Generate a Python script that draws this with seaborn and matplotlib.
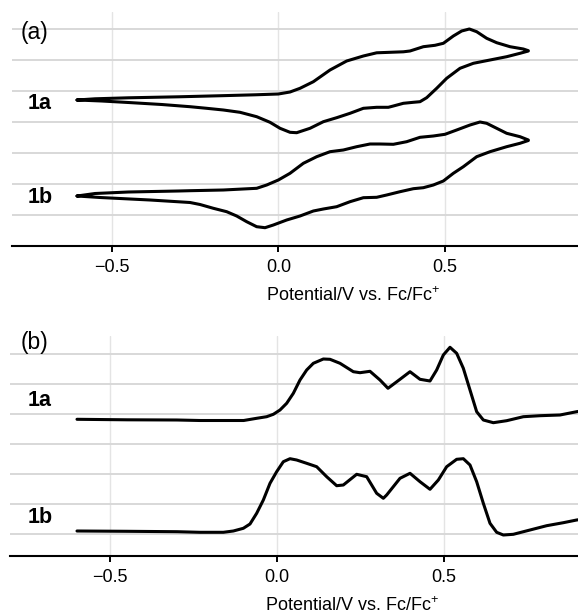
import numpy as np
import pandas as pd
import matplotlib
matplotlib.use("Agg")
import matplotlib.pyplot as plt
import seaborn as sns

# ---------------- data (current in arbitrary units, offset per compound) ----------------
# (a) cyclic voltammograms, forward (oxidative) branch
cv1a_fwd_E = [-0.604, -0.55, -0.45, -0.30, -0.17, -0.07, 0.00, 0.035, 0.065, 0.105, 0.155, 0.205,
              0.255, 0.295, 0.335, 0.375, 0.395, 0.435, 0.47, 0.495, 0.525, 0.55, 0.573, 0.595,
              0.625, 0.655, 0.695, 0.735, 0.75]
cv1a_fwd_i = [146, 147.2, 148.2, 149.2, 150.3, 151.2, 152, 154, 157.7, 164.3, 176, 185,
              190, 193.2, 193.7, 194.2, 195, 199.3, 200.7, 202.7, 210, 215, 217, 214.3,
              207.7, 203.3, 199.3, 197, 195.3]
# reverse branch
cv1a_rev_E = [0.75, 0.725, 0.685, 0.635, 0.585, 0.545, 0.505, 0.475, 0.445, 0.425, 0.405, 0.375,
              0.345, 0.33, 0.295, 0.255, 0.215, 0.175, 0.135, 0.095, 0.055, 0.035, 0.005, -0.025,
              -0.065, -0.115, -0.165, -0.215, -0.265, -0.35, -0.45, -0.53, -0.604]
cv1a_rev_i = [195, 192.7, 189.3, 186, 182.7, 177.7, 167.7, 157.7, 148.3, 144.3, 143.7, 142.7,
              140, 138.7, 138.7, 137.7, 132.7, 128.3, 124.3, 117.7, 113.3, 113.7, 117.7, 123.7,
              129.3, 133.7, 136, 137.7, 139.3, 141.5, 143.5, 145, 146]

cv1b_fwd_E = [-0.604, -0.55, -0.45, -0.30, -0.265, -0.165, -0.065, -0.035, 0.0, 0.035, 0.075,
              0.115, 0.155, 0.195, 0.235, 0.275, 0.305, 0.345, 0.385, 0.425, 0.465, 0.50, 0.535,
              0.575, 0.605, 0.625, 0.655, 0.685, 0.725, 0.75]
cv1b_fwd_i = [50, 52.5, 54, 55, 55.3, 56, 57.7, 61, 66, 72.7, 82.7,
              89.3, 94.3, 96, 99.3, 102, 102, 101.7, 104.3, 108.7, 110, 111.7, 116,
              121, 124, 122.7, 117.7, 112.7, 109.3, 106]
cv1b_rev_E = [0.75, 0.725, 0.685, 0.635, 0.595, 0.555, 0.525, 0.495, 0.465, 0.435, 0.405, 0.365,
              0.325, 0.295, 0.255, 0.215, 0.175, 0.135, 0.105, 0.065, 0.025, -0.015, -0.04,
              -0.065, -0.095, -0.125, -0.155, -0.195, -0.235, -0.265, -0.385, -0.535, -0.604]
cv1b_rev_i = [105.5, 102.7, 99.3, 94.3, 89.3, 79.3, 72.7, 65, 61, 58.3, 57.3, 54.3,
              51, 48.7, 48.3, 44.3, 39.3, 37, 35, 30, 26, 21, 18.3,
              19.3, 24.3, 30, 34.3, 37.7, 41.5, 43.5, 46, 48.5, 50]

# (b) differential pulse voltammograms
dpv1a_E = [-0.60, -0.45, -0.30, -0.231, -0.10, -0.061, -0.031, -0.011, 0.009, 0.029, 0.049, 0.069,
           0.089, 0.109, 0.139, 0.159, 0.189, 0.229, 0.249, 0.279, 0.309, 0.333, 0.369, 0.399,
           0.429, 0.459, 0.479, 0.499, 0.519, 0.539, 0.559, 0.579, 0.599, 0.619, 0.649, 0.689,
           0.739, 0.789, 0.849, 0.899, 0.93]
dpv1a_i = [136.7, 136.2, 136, 135.5, 135.5, 137.7, 139.3, 141.7, 146, 152.7, 162.7, 176,
           186, 192.7, 197, 196.7, 192.7, 184.3, 183.3, 184.7, 176, 167.7, 176.7, 184.3,
           176.7, 175, 186, 201, 208.7, 202.7, 187.7, 166, 144.3, 136, 133.3, 135.3,
           139.3, 140.3, 141, 144.3, 146]
dpv1b_E = [-0.60, -0.45, -0.30, -0.231, -0.161, -0.131, -0.101, -0.081, -0.061, -0.041, -0.021,
           -0.001, 0.019, 0.039, 0.059, 0.089, 0.119, 0.149, 0.179, 0.199, 0.239, 0.269, 0.299,
           0.319, 0.329, 0.369, 0.399, 0.429, 0.459, 0.484, 0.509, 0.539, 0.559, 0.579, 0.599,
           0.619, 0.639, 0.659, 0.679, 0.709, 0.759, 0.809, 0.859, 0.899, 0.93]
dpv1b_i = [25, 24.7, 24.3, 23.7, 23.7, 25, 27.7, 32, 42.7, 56, 72.7,
           84.3, 94.3, 97.3, 96, 92.7, 89.3, 79.3, 70.3, 71, 81.7, 79.3, 62.7,
           57.7, 61, 77.7, 82.7, 74.3, 66.7, 76, 89.3, 96.7, 97.3, 91, 74.3,
           52.7, 32.7, 23.7, 21, 21.7, 26, 30.3, 33.3, 36, 37.5]

compounds = ["1a", "1b"]
xtick_vals = [-0.5, 0.0, 0.5]
xtick_labels = ["\u22120.5", "0.0", "0.5"]
xlabel = "Potential/V vs. Fc/Fc$^{+}$"

# ---------------- tables ----------------
def cv_frame(name, fe, fi, re, ri):
    E = list(fe) + list(re)
    I = list(fi) + list(ri)
    return pd.DataFrame({"E": E, "i": I, "compound": name, "order": range(len(E))})

cv_df = pd.concat([cv_frame("1a", cv1a_fwd_E, cv1a_fwd_i, cv1a_rev_E, cv1a_rev_i),
                   cv_frame("1b", cv1b_fwd_E, cv1b_fwd_i, cv1b_rev_E, cv1b_rev_i)],
                  ignore_index=True)
dpv_df = pd.concat([pd.DataFrame({"E": dpv1a_E, "i": dpv1a_i, "compound": "1a"}),
                    pd.DataFrame({"E": dpv1b_E, "i": dpv1b_i, "compound": "1b"})],
                   ignore_index=True)

# ---------------- figure ----------------
sns.set_theme(style="white")
plt.rcParams["font.family"] = ["Liberation Sans", "DejaVu Sans"]
plt.rcParams["mathtext.fontset"] = "custom"
plt.rcParams["mathtext.rm"] = "Liberation Sans"
plt.rcParams["mathtext.it"] = "Liberation Sans:italic"
plt.rcParams["text.color"] = "black"
plt.rcParams["axes.labelcolor"] = "black"

W, H = 578, 616
fig = plt.figure(figsize=(W / 100, H / 100), dpi=100)
fig.patch.set_facecolor("white")


def px_axes(left, top, right, bottom):
    return fig.add_axes([left / W, 1 - bottom / H, (right - left) / W, (bottom - top) / H])


ax_a = px_axes(11.7, 12, 694, 246)
ax_b = px_axes(10, 336, 694, 556)

line_kw = dict(color="black", linewidth=2.2, legend=False, estimator=None, sort=False,
               solid_joinstyle="round", solid_capstyle="round")
sns.lineplot(data=cv_df, x="E", y="i", units="compound", ax=ax_a, **line_kw)
sns.lineplot(data=dpv_df, x="E", y="i", units="compound", ax=ax_b, **line_kw)


def style(ax, xlim, ylim, yt):
    ax.set_xlim(*xlim)
    ax.set_ylim(*ylim)
    ax.set_xticks(xtick_vals)
    ax.set_xticklabels(xtick_labels)
    ax.set_yticks(yt)
    ax.set_yticklabels([])
    ax.tick_params(axis="y", length=0, left=False)
    ax.tick_params(axis="x", bottom=True, length=4.5, width=1.4, color="black",
                   labelsize=13, pad=5, labelcolor="black")
    ax.set_axisbelow(True)
    ax.grid(True, axis="y", color="#d8d8d8", linewidth=1.4)
    ax.grid(True, axis="x", color="#e4e4e4", linewidth=1.0)
    for s in ["left", "right", "top"]:
        ax.spines[s].set_visible(False)
    ax.spines["bottom"].set_color("black")
    ax.spines["bottom"].set_linewidth(1.5)
    ax.set_facecolor("white")
    ax.set_xlabel(xlabel, fontsize=13, color="black", labelpad=7)
    ax.set_ylabel("")


style(ax_a, (-0.80, 1.247), (0, 234), np.arange(1, 8) * 31.05)
style(ax_b, (-0.801, 1.251), (0, 220), 21.7 + np.arange(0, 7) * 30)


def ftext(x, y, s, **kw):
    fig.text(x / W, 1 - y / H, s, color="black", **kw)


ftext(21, 39.5, "(a)", fontsize=16.5, ha="left", va="baseline")
ftext(21, 349.5, "(b)", fontsize=16.5, ha="left", va="baseline")
label_y = {"a": [109.3, 203.3], "b": [406, 522.7]}
for key in ["a", "b"]:
    for name, yb in zip(compounds, label_y[key]):
        ftext(27.5, yb, name, fontsize=15.5, fontweight="bold", ha="left", va="baseline")

fig.savefig("out.png", dpi=100)
